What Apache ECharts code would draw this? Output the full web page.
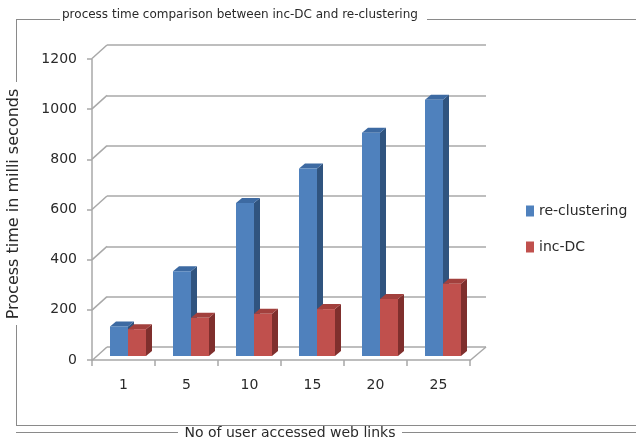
<!DOCTYPE html>
<html>
<head>
<meta charset="utf-8">
<script src="https://cdn.jsdelivr.net/npm/echarts@6/dist/echarts.min.js"></script>
<style>
  html, body { margin: 0; padding: 0; background: #fff; }
  #chart { width: 636px; height: 442px; }
</style>
</head>
<body>
<div id="chart"></div>
<script>
// data
const categories = ["1", "5", "10", "15", "20", "25"];
const reClustering = [118, 338, 610, 748, 890, 1022];
const incDC = [107, 152, 168, 187, 227, 288];
const yTicks = [0, 200, 400, 600, 800, 1000, 1200];

const FONT = "DejaVu Sans";
const TEXT = "#2a2a2a";
const FRAME = "#8a8a8a";
const GRID = "#a8a8a8";

const BAR_W = 18;
const DEPTH_X = 6, DEPTH_Y = 5;   // bar side/top depth
const SHIFT_X = 4.5, SHIFT_Y = 4; // bars sit a bit behind the front edge

const colors = {
  blue: { front: "#4f81bd", top: "#3d6aa2", side: "#30547f" },
  red: { front: "#c0504d", top: "#a2403d", side: "#7f2f2d" },
};

function barRenderer(slot, c) {
  return function (params, api) {
    const idx = api.value(0);
    const base = api.coord([idx, 0]);
    const top = api.coord([idx, api.value(1)]);
    const x0 = base[0] + SHIFT_X - BAR_W + slot * BAR_W;
    const yb = base[1] - SHIFT_Y;
    const yt = top[1] - SHIFT_Y;
    return {
      type: "group",
      children: [
        {
          type: "polygon",
          shape: { points: [[x0 + BAR_W, yt], [x0 + BAR_W + DEPTH_X, yt - DEPTH_Y], [x0 + BAR_W + DEPTH_X, yb - DEPTH_Y], [x0 + BAR_W, yb]] },
          style: { fill: c.side },
        },
        {
          type: "polygon",
          shape: { points: [[x0, yt], [x0 + BAR_W, yt], [x0 + BAR_W + DEPTH_X, yt - DEPTH_Y], [x0 + DEPTH_X, yt - DEPTH_Y]] },
          style: { fill: c.top },
        },
        {
          type: "rect",
          shape: { x: x0, y: yt, width: BAR_W, height: yb - yt },
          style: { fill: c.front },
        },
      ],
    };
  };
}

// left wall diagonals and right floor edge, drawn from the back wall grid
function wallRenderer(params, api) {
  const v = api.value(1);
  const p = api.coord([0, v]);
  const children = [{
    type: "line",
    shape: { x1: p[0], y1: p[1], x2: p[0] - 15, y2: p[1] + 13.5 },
    style: { stroke: GRID, lineWidth: 1.5 },
  }];
  if (v === 0) {
    const q = api.coord([1, 0]);
    children.push({
      type: "line",
      shape: { x1: q[0], y1: q[1], x2: q[0] - 16, y2: q[1] + 13.5 },
      style: { stroke: GRID, lineWidth: 1.5 },
    });
  }
  return { type: "group", children };
}

const chart = echarts.init(document.getElementById("chart"), null, { renderer: "canvas" });

const frame = (x1, y1, x2, y2) => ({
  type: "line",
  shape: { x1, y1, x2, y2 },
  style: { stroke: FRAME, lineWidth: 1 },
  silent: true,
});

chart.setOption({
  backgroundColor: "#fff",
  animation: false,
  title: {
    text: "process time comparison between inc-DC and re-clustering",
    left: 62,
    top: 9,
    padding: 0,
    textStyle: { fontFamily: FONT, fontSize: 12, fontWeight: "normal", color: TEXT },
  },
  legend: {
    orient: "vertical",
    left: 521,
    top: 199,
    itemWidth: 8,
    itemHeight: 11,
    itemGap: 22,
    icon: "rect",
    data: ["re-clustering", "inc-DC"],
    textStyle: { fontFamily: FONT, fontSize: 14, color: TEXT },
  },
  graphic: [
    frame(16, 19.5, 60, 19.5),
    frame(427, 19.5, 636, 19.5),
    frame(16.5, 19, 16.5, 82),
    frame(16.5, 325, 16.5, 425.5),
    frame(16, 425.5, 636, 425.5),
    frame(16, 432.5, 178, 432.5),
    frame(402, 432.5, 636, 432.5),
    {
      type: "text",
      x: 14, y: 204,
      rotation: Math.PI / 2,
      style: { text: "Process time in milli seconds", font: "16px " + FONT, fill: TEXT, align: "center", verticalAlign: "middle" },
    },
    {
      type: "text",
      x: 290, y: 433.5,
      style: { text: "No of user accessed web links", font: "14px " + FONT, fill: TEXT, align: "center", verticalAlign: "middle", backgroundColor: "#fff" },
    },
  ],
  grid: [
    { left: 92, top: 59, width: 378, height: 301 },
    { left: 107, top: 45, width: 379, height: 302 },
  ],
  xAxis: [
    {
      gridIndex: 0,
      type: "category",
      data: categories,
      boundaryGap: true,
      axisLine: { lineStyle: { color: GRID, width: 1.5 } },
      axisTick: { show: true, length: 6, lineStyle: { color: GRID, width: 1.5 } },
      axisLabel: { fontFamily: FONT, fontSize: 14, color: TEXT, margin: 18 },
      splitLine: { show: false },
    },
    { gridIndex: 1, type: "value", min: 0, max: 1, show: false },
  ],
  yAxis: [
    {
      gridIndex: 0,
      type: "value",
      min: 0,
      max: 1200,
      interval: 200,
      axisLine: { show: true, lineStyle: { color: GRID, width: 1.5 } },
      axisTick: { show: true, length: 5, lineStyle: { color: GRID, width: 1.5 } },
      axisLabel: { fontFamily: FONT, fontSize: 14, color: TEXT, margin: 15, formatter: (v) => String(v) },
      splitLine: { show: false },
    },
    {
      gridIndex: 1,
      type: "value",
      min: 0,
      max: 1200,
      interval: 200,
      axisLine: { show: false },
      axisTick: { show: false },
      axisLabel: { show: false },
      splitLine: { show: true, lineStyle: { color: GRID, width: 1.5 } },
    },
  ],
  series: [
    {
      type: "custom",
      name: "walls",
      xAxisIndex: 1,
      yAxisIndex: 1,
      silent: true,
      renderItem: wallRenderer,
      data: yTicks.map((v) => [0, v]),
    },
    {
      type: "custom",
      name: "re-clustering",
      xAxisIndex: 0,
      yAxisIndex: 0,
      itemStyle: { color: colors.blue.front },
      renderItem: barRenderer(0, colors.blue),
      encode: { x: 0, y: 1 },
      data: reClustering.map((v, i) => [i, v]),
    },
    {
      type: "custom",
      name: "inc-DC",
      xAxisIndex: 0,
      yAxisIndex: 0,
      itemStyle: { color: colors.red.front },
      renderItem: barRenderer(1, colors.red),
      encode: { x: 0, y: 1 },
      data: incDC.map((v, i) => [i, v]),
    },
  ],
});
</script>
</body>
</html>
